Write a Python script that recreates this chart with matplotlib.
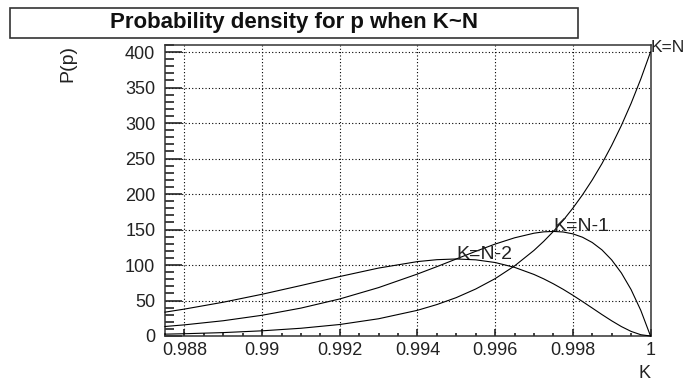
"""
Beta-type densities of p near 1 for K = N, N-1, N-2.
"""

import matplotlib
matplotlib.use("Agg")
import matplotlib.pyplot as plt
from matplotlib.patches import Rectangle
from matplotlib.ticker import FixedLocator, MultipleLocator

plt.rcParams["font.family"] = ["Liberation Sans", "DejaVu Sans"]

# Sampled curve values
p_values = [0.9875, 0.988, 0.989, 0.990, 0.991, 0.992, 0.993, 0.994, 0.9945,
            0.995, 0.9955, 0.996, 0.9965, 0.997, 0.99725, 0.9975, 0.99775,
            0.998, 0.99825, 0.9985, 0.99875, 0.999, 0.99925, 0.9995, 0.99975, 1.0]
dens_k_n = [2.6, 3.2, 4.8, 7.3, 10.9, 16.2, 24.3, 36.2, 44.3,
            54.1, 66.2, 80.8, 98.7, 120.6, 133.3, 147.3, 162.8,
            180.0, 198.9, 219.8, 242.8, 268.4, 296.5, 327.6, 362.0, 400.0]
dens_k_n1 = [13.4, 15.7, 21.5, 29.2, 39.3, 52.2, 68.2, 87.3, 97.7,
             108.5, 119.3, 129.5, 138.3, 144.8, 146.7, 147.3, 146.5,
             143.9, 139.1, 131.7, 121.3, 107.2, 88.8, 65.4, 36.1, 0.0]
dens_k_n2 = [33.6, 37.9, 47.6, 58.8, 71.1, 83.8, 95.7, 104.8, 107.5,
             108.5, 107.3, 103.5, 96.7, 86.7, 80.5, 73.5, 65.8,
             57.4, 48.5, 39.4, 30.2, 21.4, 13.3, 6.5, 1.8, 0.0]

curve_labels = ["K=N", "K=N-1", "K=N-2"]
label_points = [(1.0, 400.0), (0.9975, 147.3), (0.995, 108.5)]
label_sizes = [12.5, 14, 14]  # K=N sits at the canvas edge

x_ticks = [0.988, 0.990, 0.992, 0.994, 0.996, 0.998, 1.0]
x_tick_labels = ["0.988", "0.99", "0.992", "0.994", "0.996", "0.998", "1"]

W, H = 686, 382
fig = plt.figure(figsize=(W / 100, H / 100), dpi=100)
ax = fig.add_axes([165 / W, 46 / H, (650.5 - 165) / W, (336 - 44.5) / H])

for ys in (dens_k_n, dens_k_n1, dens_k_n2):
    ax.plot(p_values, ys, color="black", lw=0.8, clip_on=False, zorder=3)

for txt, (px, py), fs in zip(curve_labels, label_points, label_sizes):
    ax.text(px, py, txt, fontsize=fs, ha="left", va="baseline",
            color="#222222", zorder=4, clip_on=False)

ax.set_xlim(0.9875, 1.0)
ax.set_ylim(0, 410.6)

ax.xaxis.set_major_locator(FixedLocator(x_ticks))
ax.set_xticklabels(x_tick_labels)
ax.xaxis.set_minor_locator(MultipleLocator(0.0005))
ax.yaxis.set_major_locator(MultipleLocator(50))
ax.yaxis.set_minor_locator(MultipleLocator(10))

ax.tick_params(axis="both", which="both", direction="in", colors="#222222",
               labelsize=13, top=False, right=False)
ax.tick_params(axis="y", which="major", length=12, width=1.2, pad=7)
ax.tick_params(axis="y", which="minor", length=6.5, width=1.2)
ax.tick_params(axis="x", which="major", length=5, width=1.2, pad=4)
ax.tick_params(axis="x", which="minor", length=2.5, width=1.2)

ax.grid(True, which="major", color="black", lw=0.8, linestyle=(0, (1, 2)))
for sp in ax.spines.values():
    sp.set_linewidth(1.1)
    sp.set_color("#333333")

# Axis titles, ROOT-style placement
fig.text(68 / W, 1 - 45 / H, "P(p)", rotation=90, ha="center", va="top",
         fontsize=14, color="#222222")
fig.text(650 / W, 0.0, "K", ha="right", va="bottom",
         fontsize=13, color="#222222")

# Title pave
fig.patches.append(Rectangle((10 / W, 1 - 37.5 / H), 568 / W, 29.5 / H,
                             transform=fig.transFigure, facecolor="white",
                             edgecolor="#333333", lw=1.2))
fig.text(294 / W, 1 - 22.5 / H, "Probability density for p when K~N",
         ha="center", va="center", fontsize=16, fontweight="bold",
         color="#111111")

fig.savefig("out.png", dpi=100)
